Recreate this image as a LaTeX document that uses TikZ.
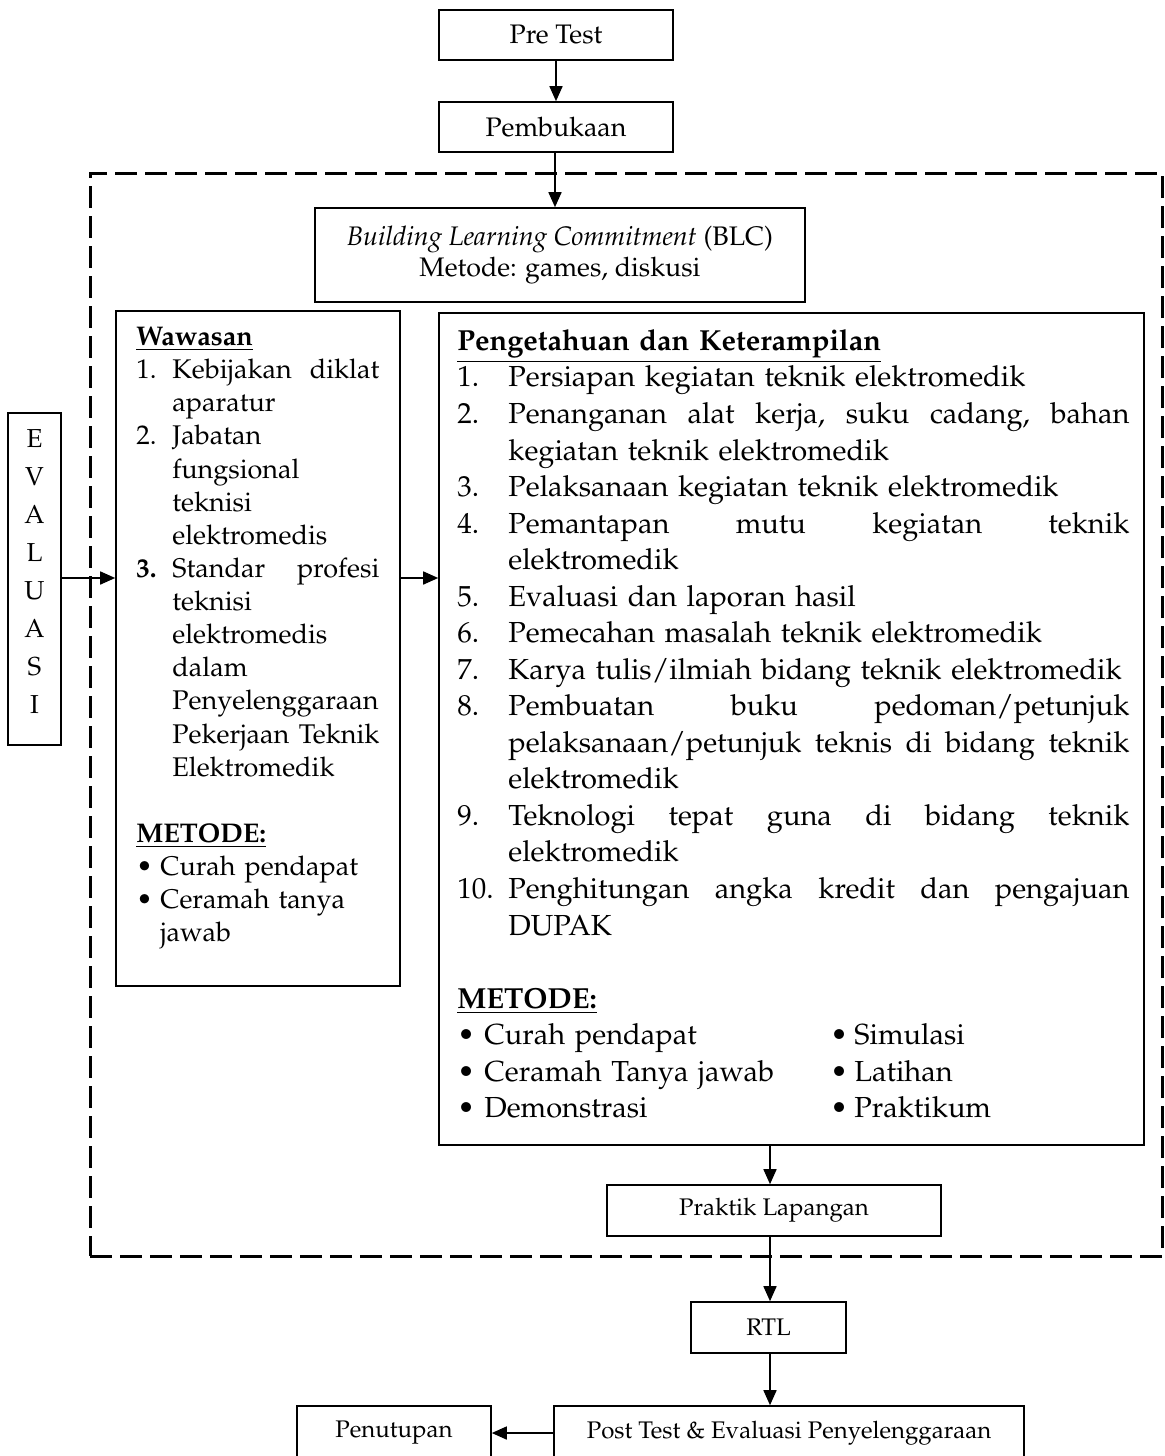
\documentclass[tikz,border=0pt]{standalone}
\usepackage[T1]{fontenc}
\usepackage{mathpazo}
\usetikzlibrary{arrows.meta}
\newlength\wnum \setlength\wnum{18pt}
\newlength\wtxt \setlength\wtxt{103.5pt}
\newlength\pnum \setlength\pnum{25.5pt}
\newlength\ptxt \setlength\ptxt{310.5pt}
\newcommand\WJ[2]{\makebox[\wnum][l]{#1}\hbox to\wtxt{#2}\par}
\newcommand\WR[2]{\makebox[\wnum][l]{#1}#2\par}
\newcommand\PJ[2]{\makebox[\pnum][l]{#1}\hbox to\ptxt{#2}\par}
\newcommand\PR[2]{\makebox[\pnum][l]{#1}#2\par}
\newcommand\MM[2]{\makebox[186.5pt][l]{\makebox[13.5pt][l]{\textbullet}#1}\makebox[12pt][l]{\textbullet}#2\par}
\tikzset{
  box/.style={draw, line width=0.8pt, inner sep=0pt, align=center, font=\fontsize{13.4}{15.5}\selectfont},
  sbox/.style={box, font=\fontsize{12}{14}\selectfont},
  txt/.style={inner sep=0pt, anchor=north west},
  arr/.style={-{Triangle[length=7.5pt,width=6.5pt]}, line width=0.8pt},
  frame/.style={draw, line width=1.5pt, dash pattern=on 11pt off 4pt, inner sep=0pt}
}
\begin{document}
\begin{tikzpicture}[x=0.5pt,y=-0.5pt]
\useasboundingbox (0,0) rectangle (1164,1456);
\clip (0,0) rectangle (1164,1456);
\node[frame, minimum width=536pt, minimum height=541.5pt] (fr) at (626,714.5) {};
\node[box, minimum width=117pt, minimum height=25pt] (pre) at (556,35) {Pre Test};
\node[box, minimum width=117pt, minimum height=25pt] (pemb) at (556,127) {Pembukaan};
\node[box, minimum width=245pt, minimum height=47pt] (blc) at (560,255) {\textit{Building Learning Commitment} (BLC)\\Metode: games, diskusi};
\node[box, minimum width=142pt, minimum height=337.5pt] (waw) at (258,648.5) {};
\node[box, minimum width=352.5pt, minimum height=416pt] (pk) at (791.5,729) {};
\node[box, minimum width=26.5pt, minimum height=166pt] (eval) at (34.5,579) {};
\node[inner sep=0pt, align=center, font=\fontsize{13}{19}\selectfont] (evaltxt) at (34.5,572) {E\\V\\A\\L\\U\\A\\S\\I};
\node[sbox, minimum width=167pt, minimum height=25.5pt] (prak) at (774,1210.5) {Praktik Lapangan};
\node[sbox, minimum width=77.5pt, minimum height=25.5pt] (rtl) at (768.5,1327.5) {RTL};
\node[sbox, minimum width=235pt, minimum height=27pt] (post) at (789,1433) {Post Test \& Evaluasi Penyelenggaraan};
\node[sbox, minimum width=97pt, minimum height=27pt] (penut) at (394,1433) {Penutupan};
% Wawasan text
\node[txt, text width=121.5pt, font=\fontsize{13.5}{16.56}\selectfont] (wawtxt) at (136,322) {%
\strut\underline{\textbf{Wawasan}}\par
\WJ{1.}{Kebijakan \hfill diklat}
\WR{}{aparatur}
\WR{2.}{Jabatan}
\WR{}{fungsional}
\WR{}{teknisi}
\WR{}{elektromedis}
\WJ{\textbf{3.}}{Standar \hfill profesi}
\WR{}{teknisi}
\WR{}{elektromedis}
\WR{}{dalam}
\WR{}{Penyelenggaraan}
\WJ{}{Pekerjaan \hfill Teknik}
\WR{}{Elektromedik}
\mbox{}\par
\underline{\textbf{METODE:}}\par
\makebox[12pt][l]{\textbullet}Curah pendapat\par
\makebox[12pt][l]{\textbullet}Ceramah tanya\par
\hspace*{12pt}jawab\par};
% Pengetahuan text
\node[txt, text width=336pt, font=\fontsize{14.5}{18.27}\selectfont] (pktxt) at (457,324.4) {%
\strut\underline{\textbf{Pengetahuan dan Keterampilan}}\par
\PR{1.}{Persiapan kegiatan teknik elektromedik}
\PJ{2.}{Penanganan \hfill alat \hfill kerja, \hfill suku \hfill cadang, \hfill bahan}
\PR{}{kegiatan teknik elektromedik}
\PR{3.}{Pelaksanaan kegiatan teknik elektromedik}
\PJ{4.}{Pemantapan \hfill mutu \hfill kegiatan \hfill teknik}
\PR{}{elektromedik}
\PR{5.}{Evaluasi dan laporan hasil}
\PR{6.}{Pemecahan masalah teknik elektromedik}
\PR{7.}{Karya tulis/ilmiah bidang teknik elektromedik}
\PJ{8.}{Pembuatan \hfill buku \hfill pedoman/petunjuk}
\PJ{}{pelaksanaan/petunjuk \hfill teknis \hfill di \hfill bidang \hfill teknik}
\PR{}{elektromedik}
\PJ{9.}{Teknologi \hfill tepat \hfill guna \hfill di \hfill bidang \hfill teknik}
\PR{}{elektromedik}
\PJ{10.}{Penghitungan \hfill angka \hfill kredit \hfill dan \hfill pengajuan}
\PR{}{DUPAK}
\mbox{}\par
\underline{\textbf{METODE:}}\par
\MM{Curah pendapat}{Simulasi}
\MM{Ceramah Tanya jawab}{Latihan}
\MM{Demonstrasi}{Praktikum}};
% connectors
\coordinate (ay) at (0,578);
\coordinate (ax) at (770,0);
\coordinate (tx) at (555,0);
\draw[arr] (pre) -- (pemb);
\draw[arr] (pemb.south -| tx) -- (blc.north -| tx);
\draw[arr] (eval.east |- ay) -- (waw.west |- ay);
\draw[arr] (waw.east |- ay) -- (pk.west |- ay);
\draw[arr] (pk.south -| ax) -- (prak.north -| ax);
\draw[arr] (prak.south -| ax) -- (rtl.north -| ax);
\draw[arr] (rtl.south -| ax) -- (post.north -| ax);
\draw[arr] (post.west) -- (penut.east);
\end{tikzpicture}
\end{document}
